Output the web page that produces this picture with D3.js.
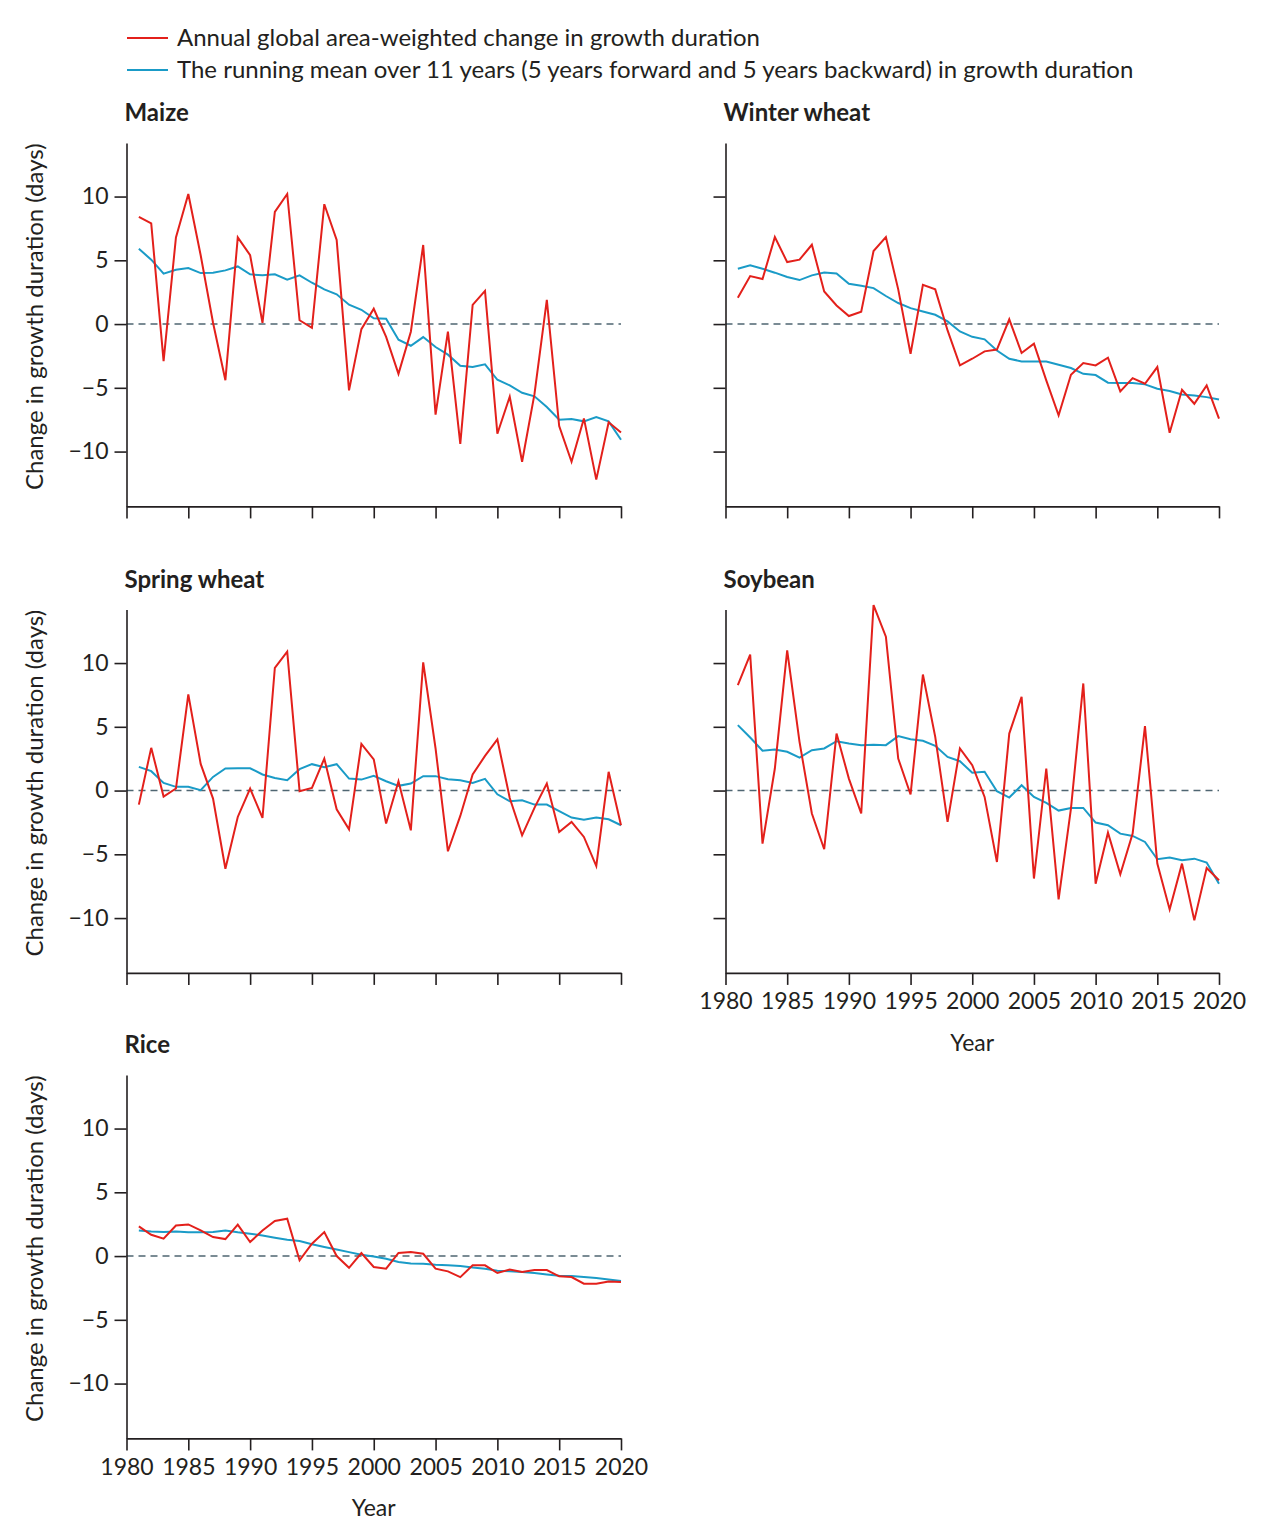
<!DOCTYPE html>
<html>
<head>
<meta charset="utf-8">
<script src="https://cdn.jsdelivr.net/npm/d3@7"></script>
<style>
	body { margin: 0; background: #fff; }
	svg text { font-family: Lato, "Open Sans", sans-serif; fill: #231f20; }
</style>
</head>
<body>
<div id="chartDIV"></div>
<script>
// years 1981-2020, one value per year
var years = d3.range(1981, 2021);
var xTicks = [1980, 1985, 1990, 1995, 2000, 2005, 2010, 2015, 2020];
var yTicks = [-10, -5, 0, 5, 10];

var cropNames = ["Maize", "Winter wheat", "Spring wheat", "Soybean", "Rice"];
var legendLabels = [
	"Annual global area-weighted change in growth duration",
	"The running mean over 11 years (5 years forward and 5 years backward) in growth duration"
];

var maizeAnnual = [8.4, 7.9, -2.9, 6.8, 10.2, 5.4, 0.1, -4.4, 6.8, 5.4,
	0.1, 8.8, 10.2, 0.3, -0.3, 9.4, 6.6, -5.2, -0.4, 1.2,
	-1.0, -3.9, -0.6, 6.2, -7.1, -0.6, -9.4, 1.5, 2.6, -8.6,
	-5.7, -10.8, -5.5, 1.9, -8.0, -10.8, -7.4, -12.2, -7.7, -8.5];
var maizeMean = [5.9, 5.05, 3.95, 4.26, 4.39, 4.0, 4.03, 4.21, 4.52, 3.9,
	3.82, 3.9, 3.48, 3.82, 3.24, 2.72, 2.33, 1.52, 1.12, 0.45,
	0.42, -1.23, -1.7, -1.02, -1.8, -2.4, -3.27, -3.37, -3.16, -4.37,
	-4.81, -5.39, -5.67, -6.51, -7.5, -7.45, -7.63, -7.29, -7.63, -9.07];

var winterAnnual = [2.07, 3.76, 3.53, 6.82, 4.86, 5.05, 6.22, 2.56, 1.46, 0.63,
	0.97, 5.73, 6.82, 2.72, -2.33, 3.08, 2.72, -0.5, -3.24, -2.72,
	-2.14, -2.0, 0.37, -2.27, -1.54, -4.42, -7.16, -3.97, -3.06, -3.24,
	-2.64, -5.28, -4.24, -4.68, -3.37, -8.52, -5.15, -6.25, -4.81, -7.42];
var winterMean = [4.34, 4.6, 4.34, 4.03, 3.69, 3.45, 3.82, 4.05, 3.97, 3.16,
	3.0, 2.82, 2.2, 1.65, 1.25, 0.99, 0.73, 0.21, -0.58, -1.0,
	-1.2, -2.07, -2.72, -2.93, -2.93, -2.93, -3.19, -3.45, -3.9, -4.0,
	-4.6, -4.63, -4.63, -4.73, -5.07, -5.25, -5.52, -5.6, -5.73, -5.91];

var springAnnual = [-1.1, 3.35, -0.47, 0.16, 7.54, 2.09, -0.63, -6.13, -2.07, 0.16,
	-2.15, 9.63, 10.89, -0.05, 0.21, 2.51, -1.47, -3.04, 3.66, 2.45,
	-2.59, 0.73, -3.12, 10.05, 3.3, -4.76, -1.99, 1.26, 2.72, 4.01,
	-0.58, -3.51, -1.36, 0.55, -3.25, -2.46, -3.64, -5.92, 1.47, -2.72];
var springMean = [1.86, 1.52, 0.6, 0.29, 0.29, 0.03, 1.07, 1.73, 1.75, 1.75,
	1.26, 0.99, 0.81, 1.68, 2.07, 1.83, 2.07, 0.94, 0.86, 1.15,
	0.73, 0.37, 0.55, 1.13, 1.13, 0.89, 0.81, 0.6, 0.92, -0.29,
	-0.84, -0.76, -1.1, -1.1, -1.62, -2.12, -2.28, -2.12, -2.25, -2.72];

var soyAnnual = [8.26, 10.67, -4.16, 1.73, 11.0, 3.82, -1.8, -4.6, 4.47, 0.94,
	-1.8, 14.55, 12.07, 2.51, -0.31, 9.1, 4.21, -2.46, 3.3, 1.99,
	-0.5, -5.6, 4.47, 7.35, -6.9, 1.73, -8.53, -1.41, 8.4, -7.3,
	-3.3, -6.57, -3.38, 5.05, -5.73, -9.32, -5.73, -10.18, -6.07, -7.04];
var soyMean = [5.13, 4.16, 3.12, 3.22, 3.04, 2.59, 3.17, 3.3, 3.87, 3.69,
	3.56, 3.59, 3.56, 4.27, 4.03, 3.9, 3.51, 2.64, 2.3, 1.39,
	1.47, -0.05, -0.55, 0.42, -0.5, -0.97, -1.57, -1.36, -1.36, -2.51,
	-2.72, -3.38, -3.56, -4.03, -5.39, -5.26, -5.47, -5.34, -5.65, -7.3];

var riceAnnual = [2.33, 1.67, 1.36, 2.4, 2.48, 2.01, 1.49, 1.33, 2.46, 1.1,
	2.01, 2.75, 2.93, -0.34, 0.97, 1.88, 0.0, -0.92, 0.24, -0.86,
	-0.99, 0.24, 0.31, 0.18, -0.99, -1.2, -1.65, -0.73, -0.73, -1.33,
	-1.05, -1.25, -1.1, -1.1, -1.59, -1.65, -2.17, -2.17, -1.99, -2.04];
var riceMean = [2.01, 1.93, 1.88, 1.93, 1.86, 1.86, 1.88, 2.01, 1.86, 1.75,
	1.62, 1.44, 1.28, 1.18, 0.92, 0.71, 0.52, 0.31, 0.1, -0.03,
	-0.21, -0.47, -0.58, -0.6, -0.68, -0.73, -0.78, -0.89, -0.99, -1.15,
	-1.2, -1.25, -1.33, -1.44, -1.54, -1.57, -1.65, -1.73, -1.83, -1.96];

var annualSeries = [maizeAnnual, winterAnnual, springAnnual, soyAnnual, riceAnnual];
var meanSeries = [maizeMean, winterMean, springMean, soyMean, riceMean];

var redColor = "#e3201b", blueColor = "#1a9bc7", zeroColor = "#4f6672", axisColor = "#231f20";

var svgWidth = 1270, svgHeight = 1540;
var svg = d3.select("#chartDIV").append("svg")
	.attr("width", svgWidth)
	.attr("height", svgHeight);

// legend at the top
var legend = svg.append("g");
[redColor, blueColor].forEach(function (c, i) {
	var ly = 38 + i * 32;
	legend.append("line")
		.attr("x1", 127).attr("x2", 168)
		.attr("y1", ly).attr("y2", ly)
		.attr("stroke", c)
		.attr("stroke-width", 2);
	legend.append("text")
		.attr("x", 177)
		.attr("y", ly + 8)
		.attr("font-size", 24)
		.text(legendLabels[i]);
});

// panel positions: col 0/1, row 0..2
var colX = [[126.5, 621], [725.5, 1219]];
var rowTop = [143, 609.5, 1075];
var plotHeight = 363.4;
var showYearLabels = [false, false, false, true, true];

cropNames.forEach(function (name, i) {
	var col = i == 4 ? 0 : i % 2;
	var row = Math.floor(i / 2);
	var top = rowTop[row], bottom = top + plotHeight;

	var x = d3.scaleLinear().domain([1980, 2020]).range(colX[col]);
	var y = d3.scaleLinear().domain([-14.3, 14.2]).range([bottom, top]);

	var g = svg.append("g");

	// title
	g.append("text")
		.attr("x", colX[col][0] - 2)
		.attr("y", top - 22)
		.attr("font-size", 24)
		.attr("font-weight", "bold")
		.text(name);

	// dashed zero line
	g.append("line")
		.attr("x1", x(1980)).attr("x2", x(2020))
		.attr("y1", y(0)).attr("y2", y(0))
		.attr("stroke", zeroColor)
		.attr("stroke-width", 1.5)
		.attr("stroke-dasharray", "7,5");

	var lineGen = d3.line()
		.x(function (d, k) { return x(years[k]); })
		.y(function (d) { return y(d); });

	g.append("path")
		.datum(meanSeries[i])
		.attr("fill", "none")
		.attr("stroke", blueColor)
		.attr("stroke-width", 2)
		.attr("d", lineGen);

	g.append("path")
		.datum(annualSeries[i])
		.attr("fill", "none")
		.attr("stroke", redColor)
		.attr("stroke-width", 2)
		.attr("stroke-linejoin", "miter")
		.attr("d", lineGen);

	// axes
	var yAxis = d3.axisLeft(y)
		.tickValues(yTicks)
		.tickSize(12)
		.tickSizeOuter(0)
		.tickPadding(6)
		.tickFormat(d3.format("d"));
	var yG = g.append("g")
		.attr("transform", "translate(" + colX[col][0] + ",0)")
		.call(yAxis);

	var xAxis = d3.axisBottom(x)
		.tickValues(xTicks)
		.tickSize(12)
		.tickSizeOuter(0)
		.tickPadding(8)
		.tickFormat(showYearLabels[i] ? d3.format("d") : "");
	var xG = g.append("g")
		.attr("transform", "translate(0," + bottom + ")")
		.call(xAxis);

	[yG, xG].forEach(function (ax) {
		ax.selectAll("path, line").attr("stroke", axisColor).attr("stroke-width", 1.6);
		ax.selectAll("text")
			.attr("font-size", 23)
			.attr("font-family", "Lato, 'Open Sans', sans-serif")
			.attr("fill", "#231f20");
	});
	// y labels only on the left column
	if (col == 1) {
		yG.selectAll("text").remove();
	} else {
		g.append("text")
			.attr("transform", "translate(43," + ((top + bottom) / 2 - 8) + ") rotate(-90)")
			.attr("text-anchor", "middle")
			.attr("font-size", 24)
			.text("Change in growth duration (days)");
	}

	if (showYearLabels[i]) {
		g.append("text")
			.attr("x", (colX[col][0] + colX[col][1]) / 2)
			.attr("y", bottom + 78)
			.attr("text-anchor", "middle")
			.attr("font-size", 23)
			.text("Year");
	}
});
</script>
</body>
</html>
